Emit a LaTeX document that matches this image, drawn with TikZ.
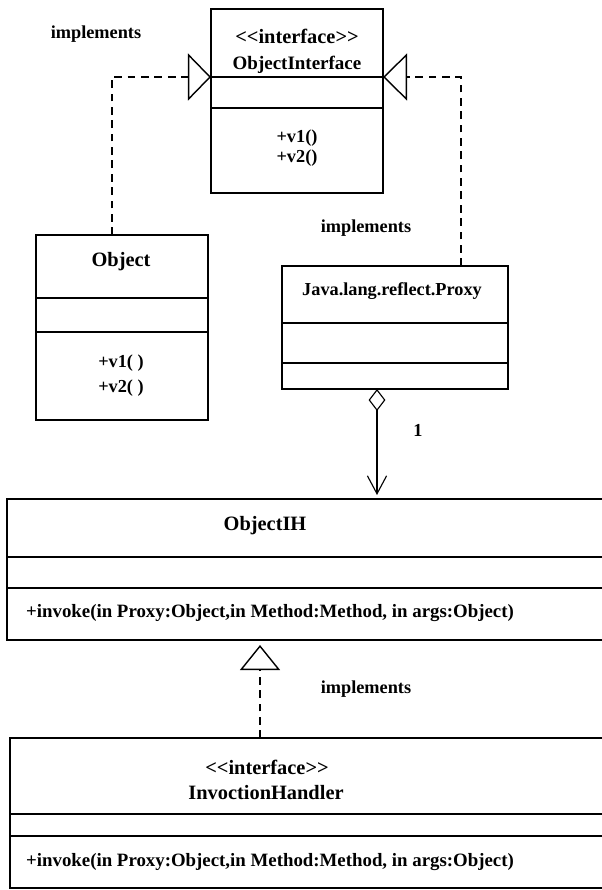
\documentclass[tikz,border=0pt]{standalone}
\usepackage{fontspec}
\setmainfont{Liberation Serif}
\usetikzlibrary{arrows.meta}
\tikzstyle{class} = [draw, line width=1.1pt, rectangle, inner sep=0pt, outer sep=0pt]
\tikzstyle{divider} = [line width=1pt]
\tikzstyle{title} = [font=\fontsize{14.5}{17}\selectfont\bfseries, inner sep=0pt]
\tikzstyle{member} = [font=\fontsize{13}{14.5}\selectfont\bfseries, inner sep=0pt]
\tikzstyle{realize} = [line width=0.8pt, dash pattern=on 5.5pt off 4pt]

\begin{document}
\begin{tikzpicture}[x=0.025cm, y=-0.025cm]
    \clip (0,0) rectangle (602,890);

    \node [class, minimum width=4.3cm, minimum height=4.6cm] (oi) at (297,101) {};
    \node [class, minimum width=4.3cm, minimum height=4.625cm] (obj) at (122,327.5) {};
    \node [class, minimum width=5.65cm, minimum height=3.075cm] (proxy) at (395,327.5) {};
    \node [class, minimum width=15.825cm, minimum height=3.525cm] (ih) at (323.5,569.5) {};
    \node [class, minimum width=15.75cm, minimum height=3.75cm] (handler) at (325,813) {};

    \draw [divider] (oi.west |- 0,77) -- (oi.east |- 0,77);
    \draw [divider] (oi.west |- 0,108) -- (oi.east |- 0,108);
    \draw [divider] (obj.west |- 0,298) -- (obj.east |- 0,298);
    \draw [divider] (obj.west |- 0,332) -- (obj.east |- 0,332);
    \draw [divider] (proxy.west |- 0,323) -- (proxy.east |- 0,323);
    \draw [divider] (proxy.west |- 0,363) -- (proxy.east |- 0,363);
    \draw [divider] (ih.west |- 0,557) -- (ih.east |- 0,557);
    \draw [divider] (ih.west |- 0,588) -- (ih.east |- 0,588);
    \draw [divider] (handler.west |- 0,814) -- (handler.east |- 0,814);
    \draw [divider] (handler.west |- 0,836) -- (handler.east |- 0,836);

    \node [title] (oistereo) at (297,36) {<\kern0pt<interface>\kern0pt>};
    \node [member, font=\fontsize{13.5}{15}\selectfont\bfseries] (oiname) at (297,65) {ObjectInterface};
    \node [member] (oiv1) at (297,138) {+v1()};
    \node [member] (oiv2) at (297,158) {+v2()};

    \node [title] (objname) at (121,262) {Object};
    \node [member] (objv1) at (121,363) {+v1( )};
    \node [member] (objv2) at (121,388) {+v2( )};

    \node [member] (proxyname) at (392,291) {Java.lang.reflect.Proxy};

    \node [title] (ihname) at (265,526) {ObjectIH};
    \node [member, font=\fontsize{13.4}{15}\selectfont\bfseries] (ihop) at (270,613) {+invoke(in Proxy:Object,in Method:Method, in args:Object)};

    \node [title] (hstereo) at (267,767) {<\kern0pt<interface>\kern0pt>};
    \node [title] (hname) at (266,793) {InvoctionHandler};
    \node [member, font=\fontsize{13.4}{15}\selectfont\bfseries] (hop) at (270,862) {+invoke(in Proxy:Object,in Method:Method, in args:Object)};

    \node [member] (impl1) at (96,34) {implements};
    \node [member] (impl2) at (366,228) {implements};
    \node [member] (impl3) at (366,689) {implements};
    \node [member] (mult) at (418,430) {1};

    \draw [realize, -{Triangle[open, length=0.575cm, width=1.175cm, line width=1pt]}] (obj.north -| 112,0) |- (oi.west |- 0,77);
    \draw [realize, -{Triangle[open, length=0.6cm, width=1.175cm, line width=1pt]}] (proxy.north -| 461,0) |- (oi.east |- 0,77);
    \draw [line width=0.8pt, {Diamond[open, length=0.55cm, width=0.42cm, line width=0.8pt]}-{Straight Barb[length=0.45cm, width=0.48cm, line width=0.8pt]}, shorten >=0.1cm] (proxy.south -| 377,0) -- (ih.north -| 377,0);
    \draw [realize, -{Triangle[open, length=0.625cm, width=1cm, line width=1pt]}, shorten >=0.125cm] (handler.north -| 260,0) -- (ih.south -| 260,0);

\end{tikzpicture}
\end{document}
